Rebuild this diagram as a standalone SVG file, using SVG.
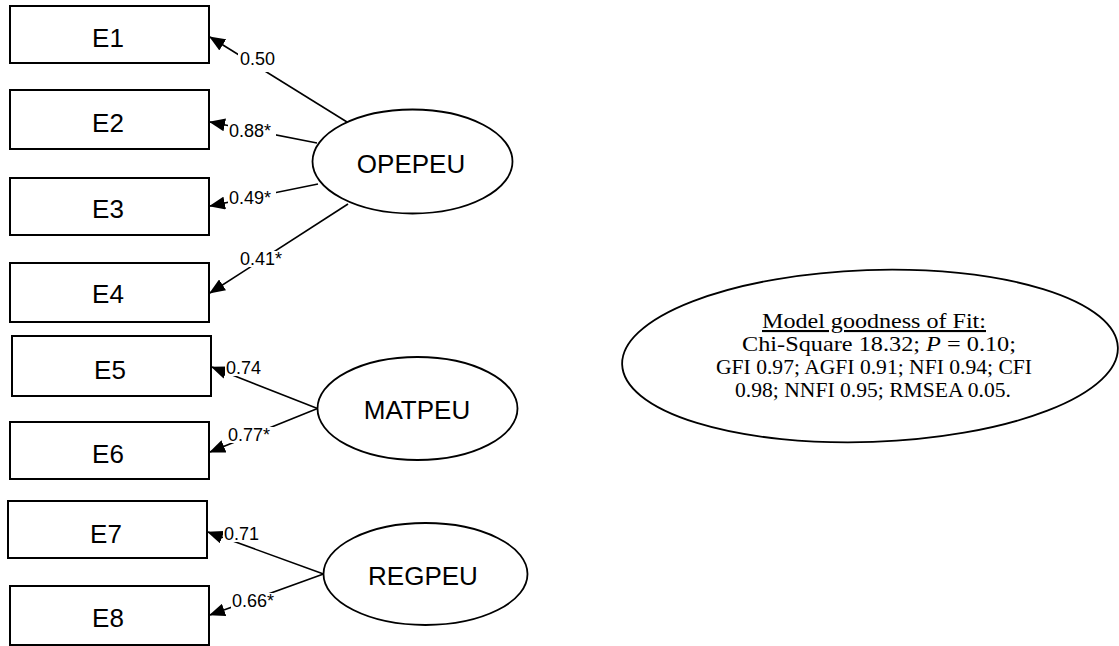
<svg xmlns="http://www.w3.org/2000/svg" width="1119" height="646" viewBox="0 0 1119 646">
<style>
.box{fill:#fff;stroke:#000;stroke-width:2}
.ell{fill:#fff;stroke:#000;stroke-width:1.8}
.lbl{font-family:"Liberation Sans",Arial,sans-serif;font-size:26px;fill:#000;text-anchor:middle}
.conn{stroke:#000;stroke-width:1.6;fill:none;marker-end:url(#ah)}
.num{font-family:"Liberation Sans",Arial,sans-serif;font-size:18px;fill:#000}
.bg{fill:#fff}
.fit{font-family:"Liberation Serif","Times New Roman",serif;font-size:21px;fill:#000;text-anchor:middle}
</style>
<defs>
<marker id="ah" viewBox="0 0 16 13" refX="15" refY="6.5" markerWidth="16" markerHeight="13" markerUnits="userSpaceOnUse" orient="auto">
<path d="M0,0 L16,6.5 L0,13 z" fill="#000"/>
</marker>
</defs>
<rect width="1119" height="646" fill="#fff"/>
<g id="E1"><rect class="box" x="10" y="6" width="199" height="57"/><text class="lbl" x="108" y="47">E1</text></g>
<g id="E2"><rect class="box" x="10" y="90" width="199" height="59"/><text class="lbl" x="108" y="132">E2</text></g>
<g id="E3"><rect class="box" x="10" y="178" width="199" height="57"/><text class="lbl" x="108" y="218">E3</text></g>
<g id="E4"><rect class="box" x="10" y="263" width="199" height="59"/><text class="lbl" x="108" y="303">E4</text></g>
<g id="E5"><rect class="box" x="12" y="336" width="199" height="60"/><text class="lbl" x="110" y="379">E5</text></g>
<g id="E6"><rect class="box" x="10" y="422" width="199" height="57"/><text class="lbl" x="108" y="463">E6</text></g>
<g id="E7"><rect class="box" x="8" y="501" width="199" height="57"/><text class="lbl" x="106" y="543">E7</text></g>
<g id="E8"><rect class="box" x="10" y="586" width="199" height="59"/><text class="lbl" x="108" y="627">E8</text></g>
<g id="OPEPEU"><ellipse class="ell" cx="412.5" cy="161.5" rx="100" ry="52"/><text class="lbl" x="411" y="173">OPEPEU</text></g>
<g id="MATPEU"><ellipse class="ell" cx="417.5" cy="408.5" rx="100" ry="51.5"/><text class="lbl" x="417" y="419">MATPEU</text></g>
<g id="REGPEU"><ellipse class="ell" cx="425.5" cy="574" rx="102" ry="51"/><text class="lbl" x="423" y="585">REGPEU</text></g>
<g id="connectors">
<line class="conn" x1="347" y1="122" x2="210" y2="37"/>
<line class="conn" x1="317" y1="143" x2="210" y2="122"/>
<line class="conn" x1="318" y1="184" x2="210" y2="206"/>
<line class="conn" x1="348" y1="204" x2="210" y2="293"/>
<line class="conn" x1="317.5" y1="408.5" x2="212" y2="367"/>
<line class="conn" x1="317.5" y1="408.5" x2="210" y2="452"/>
<line class="conn" x1="323.5" y1="574" x2="208" y2="532"/>
<line class="conn" x1="323.5" y1="574" x2="210" y2="615"/>
<g id="labels">
<rect class="bg" x="238" y="50" width="42" height="22"/><text class="num" x="240" y="65">0.50</text>
<rect class="bg" x="228" y="123" width="48" height="16"/><text class="num" x="229" y="137">0.88*</text>
<rect class="bg" x="228" y="190" width="48" height="16"/><text class="num" x="229" y="204">0.49*</text>
<rect class="bg" x="238" y="251" width="50" height="16"/><text class="num" x="240" y="265">0.41*</text>
<rect class="bg" x="225" y="360" width="42" height="16"/><text class="num" x="226" y="374">0.74</text>
<rect class="bg" x="227" y="427" width="48" height="16"/><text class="num" x="228" y="441">0.77*</text>
<rect class="bg" x="223" y="526" width="42" height="16"/><text class="num" x="224" y="540">0.71</text>
<rect class="bg" x="231" y="593" width="48" height="16"/><text class="num" x="232" y="607">0.66*</text>
</g>
</g>
<g id="fit">
<ellipse class="ell" cx="870" cy="356" rx="248" ry="86" transform="rotate(-2 870 356)" stroke-width="2"/>
<text class="fit" x="874" y="328" text-decoration="underline" textLength="224" lengthAdjust="spacingAndGlyphs">Model goodness of Fit:</text>
<text class="fit" x="879" y="351" textLength="274" lengthAdjust="spacingAndGlyphs">Chi-Square 18.32; <tspan font-style="italic">P</tspan> = 0.10;</text>
<text class="fit" x="874" y="374" textLength="316" lengthAdjust="spacingAndGlyphs">GFI 0.97; AGFI 0.91; NFI 0.94; CFI</text>
<text class="fit" x="873" y="397" textLength="276" lengthAdjust="spacingAndGlyphs">0.98; NNFI 0.95; RMSEA 0.05.</text>
</g>
</svg>
